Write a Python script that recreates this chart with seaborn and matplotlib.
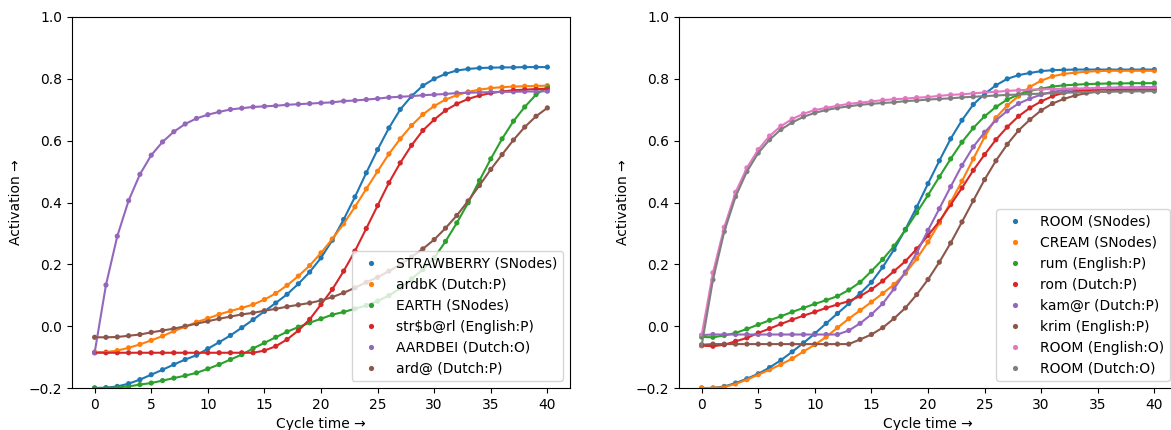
import numpy as np
import pandas as pd
import seaborn as sns
import matplotlib
matplotlib.use("Agg")
import matplotlib.pyplot as plt

cycles = list(range(41))

# left panel: STRAWBERRY / AARDBEI
left_names = ["STRAWBERRY (SNodes)", "ardbK (Dutch:P)", "EARTH (SNodes)",
              "str$b@rl (English:P)", "AARDBEI (Dutch:O)", "ard@ (Dutch:P)"]
strawberry = [-0.200, -0.199, -0.195, -0.186, -0.173, -0.157, -0.141, -0.124, -0.108, -0.094,
              -0.073, -0.052, -0.030, -0.005, 0.021, 0.048, 0.075, 0.103, 0.137, 0.175,
              0.221, 0.278, 0.345, 0.418, 0.496, 0.571, 0.641, 0.701, 0.744, 0.778,
              0.800, 0.816, 0.827, 0.832, 0.835, 0.836, 0.837, 0.837, 0.838, 0.838, 0.838]
ardbK = [-0.084, -0.084, -0.079, -0.070, -0.059, -0.046, -0.032, -0.016, -0.002, 0.013,
         0.025, 0.038, 0.049, 0.059, 0.070, 0.086, 0.106, 0.132, 0.162, 0.196,
         0.237, 0.282, 0.331, 0.386, 0.444, 0.501, 0.557, 0.606, 0.649, 0.685,
         0.712, 0.733, 0.747, 0.758, 0.765, 0.770, 0.773, 0.775, 0.776, 0.777, 0.778]
earth = [-0.200, -0.200, -0.198, -0.195, -0.189, -0.184, -0.176, -0.168, -0.160, -0.151,
         -0.138, -0.124, -0.108, -0.092, -0.072, -0.054, -0.036, -0.018, -0.003, 0.011,
         0.024, 0.037, 0.046, 0.056, 0.067, 0.081, 0.099, 0.123, 0.153, 0.183,
         0.221, 0.274, 0.334, 0.399, 0.471, 0.541, 0.606, 0.663, 0.709, 0.749, 0.774]
strbrl = [-0.086, -0.086, -0.086, -0.086, -0.086, -0.086, -0.086, -0.086, -0.086, -0.086,
          -0.086, -0.086, -0.086, -0.086, -0.086, -0.079, -0.065, -0.043, -0.014, 0.022,
          0.070, 0.119, 0.178, 0.243, 0.316, 0.390, 0.464, 0.528, 0.585, 0.633,
          0.668, 0.698, 0.719, 0.735, 0.746, 0.754, 0.759, 0.763, 0.765, 0.767, 0.768]
aardbei = [-0.086, 0.133, 0.291, 0.406, 0.491, 0.553, 0.596, 0.629, 0.654, 0.672,
           0.684, 0.693, 0.701, 0.705, 0.709, 0.711, 0.713, 0.716, 0.718, 0.720,
           0.722, 0.724, 0.728, 0.730, 0.733, 0.736, 0.740, 0.742, 0.744, 0.747,
           0.749, 0.751, 0.754, 0.755, 0.756, 0.757, 0.758, 0.758, 0.759, 0.759, 0.760]
ard_at = [-0.036, -0.036, -0.035, -0.031, -0.027, -0.020, -0.014, -0.008, 0.000, 0.008,
          0.016, 0.024, 0.031, 0.038, 0.043, 0.050, 0.056, 0.063, 0.069, 0.075,
          0.083, 0.094, 0.108, 0.124, 0.142, 0.158, 0.178, 0.199, 0.224, 0.250,
          0.280, 0.317, 0.358, 0.405, 0.455, 0.507, 0.555, 0.602, 0.644, 0.679, 0.706]

# right panel: ROOM / CREAM
right_names = ["ROOM (SNodes)", "CREAM (SNodes)", "rum (English:P)", "rom (Dutch:P)",
               "kam@r (Dutch:P)", "krim (English:P)", "ROOM (English:O)", "ROOM (Dutch:O)"]
room_sn = [-0.200, -0.200, -0.195, -0.184, -0.170, -0.154, -0.134, -0.110, -0.083, -0.054,
           -0.024, 0.009, 0.041, 0.073, 0.106, 0.142, 0.191, 0.248, 0.313, 0.385,
           0.461, 0.535, 0.606, 0.666, 0.717, 0.751, 0.779, 0.800, 0.812, 0.819,
           0.825, 0.828, 0.829, 0.830, 0.830, 0.830, 0.830, 0.830, 0.830, 0.830, 0.830]
cream_sn = [-0.200, -0.200, -0.197, -0.187, -0.173, -0.157, -0.141, -0.124, -0.105, -0.082,
            -0.060, -0.035, -0.005, 0.024, 0.051, 0.078, 0.106, 0.135, 0.171, 0.218,
            0.272, 0.334, 0.401, 0.469, 0.541, 0.612, 0.674, 0.714, 0.744, 0.774,
            0.794, 0.808, 0.816, 0.820, 0.823, 0.825, 0.826, 0.826, 0.826, 0.826, 0.826]
rum = [-0.035, -0.036, -0.030, -0.022, -0.009, 0.005, 0.019, 0.032, 0.046, 0.059,
       0.072, 0.084, 0.097, 0.117, 0.142, 0.178, 0.216, 0.259, 0.311, 0.367,
       0.424, 0.483, 0.541, 0.595, 0.641, 0.679, 0.709, 0.733, 0.749, 0.761,
       0.768, 0.775, 0.779, 0.781, 0.783, 0.784, 0.785, 0.785, 0.786, 0.786, 0.786]
rom = [-0.063, -0.065, -0.060, -0.049, -0.038, -0.022, -0.008, 0.007, 0.021, 0.034,
       0.046, 0.059, 0.070, 0.081, 0.097, 0.119, 0.146, 0.178, 0.210, 0.250,
       0.293, 0.339, 0.393, 0.447, 0.504, 0.555, 0.603, 0.644, 0.679, 0.706,
       0.727, 0.744, 0.755, 0.760, 0.763, 0.765, 0.766, 0.767, 0.767, 0.768, 0.768]
kamer = [-0.029, -0.027, -0.027, -0.027, -0.027, -0.027, -0.027, -0.027, -0.027, -0.027,
         -0.027, -0.027, -0.027, -0.014, 0.009, 0.038, 0.073, 0.121, 0.175, 0.237,
         0.310, 0.380, 0.451, 0.520, 0.580, 0.627, 0.666, 0.696, 0.720, 0.736,
         0.749, 0.758, 0.763, 0.766, 0.768, 0.770, 0.771, 0.772, 0.772, 0.773, 0.773]
krim = [-0.060, -0.058, -0.058, -0.058, -0.058, -0.058, -0.058, -0.058, -0.058, -0.058,
        -0.058, -0.058, -0.058, -0.058, -0.043, -0.027, -0.005, 0.025, 0.059, 0.102,
        0.151, 0.207, 0.269, 0.337, 0.406, 0.474, 0.535, 0.588, 0.633, 0.668,
        0.698, 0.720, 0.735, 0.746, 0.754, 0.758, 0.760, 0.762, 0.763, 0.763, 0.764]
room_en = [-0.030, 0.173, 0.320, 0.433, 0.512, 0.571, 0.615, 0.647, 0.670, 0.687,
           0.699, 0.706, 0.713, 0.719, 0.723, 0.727, 0.731, 0.734, 0.736, 0.739,
           0.741, 0.745, 0.748, 0.750, 0.753, 0.756, 0.758, 0.761, 0.763, 0.765,
           0.766, 0.767, 0.768, 0.769, 0.769, 0.770, 0.770, 0.771, 0.771, 0.771, 0.771]
room_nl = [-0.063, 0.150, 0.306, 0.419, 0.500, 0.560, 0.603, 0.636, 0.659, 0.677,
           0.690, 0.699, 0.706, 0.711, 0.716, 0.719, 0.722, 0.724, 0.728, 0.730,
           0.733, 0.735, 0.737, 0.740, 0.742, 0.744, 0.746, 0.748, 0.749, 0.751,
           0.752, 0.754, 0.755, 0.756, 0.757, 0.758, 0.758, 0.759, 0.759, 0.760, 0.760]

left_series = [strawberry, ardbK, earth, strbrl, aardbei, ard_at]
right_series = [room_sn, cream_sn, rum, rom, kamer, krim, room_en, room_nl]


def to_long(names, series):
    frames = []
    for name, vals in zip(names, series):
        frames.append(pd.DataFrame({"cycle": cycles, "activation": vals, "node": name}))
    return pd.concat(frames, ignore_index=True)


def draw_panel(ax, names, series):
    df = to_long(names, series)
    pal = sns.color_palette("tab10", len(names))
    sns.lineplot(data=df, x="cycle", y="activation", hue="node", hue_order=names,
                 palette=pal, linewidth=1.5, legend=False, ax=ax)
    sns.scatterplot(data=df, x="cycle", y="activation", hue="node", hue_order=names,
                    palette=pal, s=14, linewidth=0, ax=ax)
    sns.move_legend(ax, "lower right", title=None, fontsize=10)
    ax.set_ylim(-0.2, 1.0)
    ax.set_xlim(-2, 42)
    ax.set_xticks(range(0, 41, 5))
    ax.set_yticks(np.arange(-0.2, 1.01, 0.2))
    ax.set_xlabel("Cycle time →")
    ax.set_ylabel("Activation →")


W, H = 1171, 430
fig = plt.figure(figsize=(W / 100, H / 100), dpi=100)
ax1 = fig.add_axes([72 / W, 42 / H, 498 / W, 371 / H])
ax2 = fig.add_axes([679 / W, 42 / H, 498 / W, 371 / H])

draw_panel(ax1, left_names, left_series)
draw_panel(ax2, right_names, right_series)

fig.savefig("out.png", dpi=100)
